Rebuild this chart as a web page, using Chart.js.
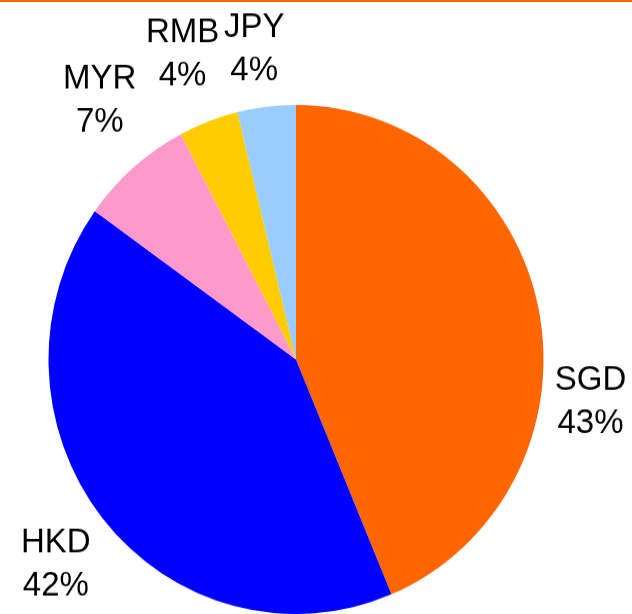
<!DOCTYPE html>
<html>
<head>
<meta charset="utf-8">
<script src="https://cdn.jsdelivr.net/npm/chart.js@4.4.1/dist/chart.umd.min.js"></script>
<style>
  html, body { margin: 0; padding: 0; background: #fff; overflow: hidden; }
  #topLine { position: absolute; left: 0; top: 0; width: 632px; height: 2px; background: #FF6600; z-index: 2; }
  #wrap { position: absolute; left: 0; top: 0; width: 632px; height: 597px; transform-origin: 0 0; transform: scale(1, 1.0285); }
</style>
</head>
<body>
<div id="topLine"></div>
<div id="wrap"><canvas id="currencyChart" width="632" height="597"></canvas></div>
<script>
// Komposisi mata uang
const currencies = ['SGD', 'HKD', 'MYR', 'RMB', 'JPY'];
const shares = [43.7, 41.2, 7.4, 3.9, 3.8];
const shareLabels = ['43%', '42%', '7%', '4%', '4%'];
const sliceColors = ['#FF6600', '#0000FF', '#FF99CC', '#FFCC00', '#99CCFF'];

// geser posisi label (px) dari titik dasar di luar irisan
const labelNudge = [[-9, 102], [2, 7], [7, -18], [-4, -7], [-5, 6]];

const outsideLabels = {
    id: 'outsideLabels',
    afterDatasetsDraw(chart) {
        const ctx = chart.ctx;
        const arcs = chart.getDatasetMeta(0).data;
        ctx.save();
        ctx.fillStyle = '#000';
        ctx.font = '33px "Liberation Sans", Arial, sans-serif';
        ctx.textAlign = 'center';
        ctx.textBaseline = 'middle';
        arcs.forEach((arc, i) => {
            const p = arc.getProps(['x', 'y', 'startAngle', 'endAngle', 'outerRadius'], true);
            const mid = (p.startAngle + p.endAngle) / 2;
            const dist = p.outerRadius + 62;
            const x = p.x + Math.cos(mid) * dist + labelNudge[i][0];
            const y = p.y + Math.sin(mid) * dist + labelNudge[i][1];
            ctx.fillText(currencies[i], x, y - 21);
            ctx.fillText(shareLabels[i], x, y + 21);
        });
        ctx.restore();
    }
};

new Chart(document.getElementById('currencyChart'), {
    type: 'pie',
    data: {
        labels: currencies,
        datasets: [{
            data: shares,
            backgroundColor: sliceColors,
            borderWidth: 0
        }]
    },
    options: {
        responsive: false,
        animation: false,
        layout: {
            padding: { left: 47, right: 87, top: 102, bottom: -3 }
        },
        plugins: {
            legend: { display: false },
            tooltip: { enabled: false }
        }
    },
    plugins: [outsideLabels]
});
</script>
</body>
</html>
